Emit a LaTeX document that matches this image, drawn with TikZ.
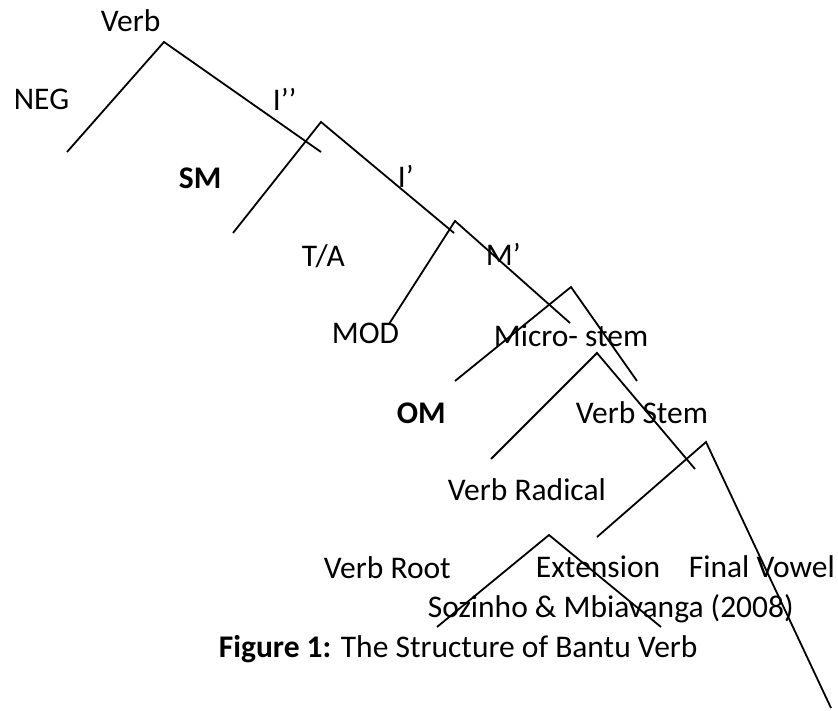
\documentclass[tikz,border=0pt]{standalone}
\usepackage{fontspec}
\setmainfont{Carlito}
\tikzset{lbl/.style={anchor=base west,inner sep=0pt,font=\fontsize{31.5}{36}\selectfont}}

\begin{document}
\begin{tikzpicture}[x=1pt,y=-1pt,line width=1.8pt]
\useasboundingbox (0,0) rectangle (838,711);
\foreach \n/\x/\y in {a/164/42,la/67/152,ra/321/152,
                      b/321/122,lb/233/233,rb/454/233,
                      c/455/221,lc/389/324,rc/570/323,
                      d/571/287,ld/455/381,rd/637/381,
                      e/597/353,le/491/459,re/695/469,
                      f/706/442,lf/597/537,rf/831/708,
                      g/549/535,lg/437/627,rg/661/627} {
    \coordinate (\n) at (\x,\y);
}
\foreach \t in {a,b,c,d,e,f,g} {
    \draw (l\t) -- (\t) -- (r\t);
}
\node[lbl] (verb) at (100,32) {Verb};
\node[lbl] (neg) at (13,110) {NEG};
\node[lbl] (ibarbar) at (272,111) {I’’};
\node[lbl] (sm) at (178,189) {\bfseries SM};
\node[lbl] (ibar) at (397,188) {I’};
\node[lbl] (ta) at (301,267) {T/A};
\node[lbl] (mbar) at (485,266) {M’};
\node[lbl] (mod) at (331,344) {MOD};
\node[lbl] (micro) at (493,346) {Micro- stem};
\node[lbl] (om) at (396,423) {\bfseries OM};
\node[lbl] (stem) at (575,423) {Verb Stem};
\node[lbl] (radical) at (447,500) {Verb Radical};
\node[lbl] (root) at (323,578) {Verb Root};
\node[lbl] (ext) at (535,577) {Extension};
\node[lbl] (fv) at (688,577) {Final Vowel};
\node[lbl] (source) at (427,617) {Sozinho \& Mbiavanga (2008)};
\node[lbl] (caption) at (218,657) {\textbf{Figure 1:} The Structure of Bantu Verb};
\end{tikzpicture}
\end{document}
